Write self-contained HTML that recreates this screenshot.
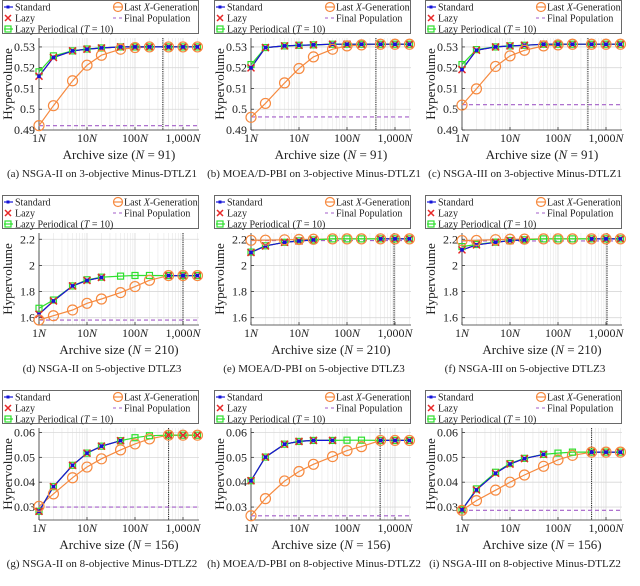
<!DOCTYPE html>
<html><head><meta charset="utf-8">
<style>
html,body{margin:0;padding:0;background:#fff;}
svg{display:block;font-family:"Liberation Serif",serif;}
</style></head>
<body>
<svg id="fig" width="640" height="586" viewBox="0 0 640 586" xmlns="http://www.w3.org/2000/svg"></svg>
<script>
const sizes = [1,2,5,10,20,50,100,200,500,1000,2000];
const N = null;
// Panel (a)
const stdA = [0.5159,0.5249,0.5281,0.5289,0.5295,0.530,0.530,0.530,0.530,0.530,0.530];
const lazyA = [0.5159,0.5249,0.5281,0.5289,0.5295,0.530,0.530,0.530,0.530,0.530,0.530];
const perA = [0.518,0.5257,0.5281,0.529,0.5295,0.530,0.530,0.530,0.530,0.530,0.530];
const lastA = [0.4921,0.5017,0.5137,0.5212,0.526,0.5289,0.5297,0.530,0.530,0.530,0.530];
// Panel (b)
const stdB = [0.5199,0.5297,0.5305,0.5308,0.531,0.5313,0.5313,0.5313,0.5313,0.5313,0.5313];
const lazyB = [0.5199,0.5297,0.5305,0.5308,0.531,0.5313,0.5313,0.5313,0.5313,0.5313,0.5313];
const perB = [0.5215,0.5297,0.5305,0.5308,0.531,0.5313,0.5313,0.5313,0.5313,0.5313,0.5313];
const lastB = [0.4961,0.5028,0.5127,0.5196,0.5252,0.5289,0.5305,0.531,0.5313,0.5313,0.5313];
// Panel (c)
const stdC = [0.5191,0.5284,0.530,0.5305,0.5308,0.5313,0.5313,0.5313,0.5313,0.5313,0.5313];
const lazyC = [0.5191,0.5284,0.530,0.5305,0.5308,0.5313,0.5313,0.5313,0.5313,0.5313,0.5313];
const perC = [0.5215,0.5287,0.530,0.5305,0.5308,0.5313,0.5313,0.5313,0.5313,0.5313,0.5313];
const lastC = [0.502,0.5098,0.5206,0.5257,0.5284,0.5305,0.531,0.5313,0.5313,0.5313,0.5313];
// Panel (d)
const stdD = [1.626,1.728,1.843,1.885,1.908,N,N,N,1.922,1.922,1.922];
const lazyD = [1.626,1.728,1.843,1.885,1.908,N,N,N,1.922,1.922,1.922];
const perD = [1.672,1.735,1.843,1.89,1.91,1.918,1.923,1.923,1.922,1.922,1.922];
const lastD = [1.582,1.615,1.659,1.71,1.743,1.792,1.838,1.886,1.922,1.922,1.922];
// Panel (e)
const stdE = [2.099,2.149,2.177,2.187,2.195,N,N,N,2.203,2.203,2.203];
const lazyE = [2.099,2.149,2.177,2.187,2.195,N,N,N,2.203,2.203,2.203];
const perE = [2.102,2.15,2.177,2.188,2.195,2.203,2.203,2.203,2.203,2.203,2.203];
const lastE = [2.192,2.193,2.196,2.198,2.2,2.203,2.203,2.203,2.203,2.203,2.203];
// Panel (f)
const stdF = [2.119,2.157,2.177,2.19,2.195,N,N,N,2.203,2.203,2.203];
const lazyF = [2.119,2.157,2.177,2.19,2.195,N,N,N,2.203,2.203,2.203];
const perF = [2.144,2.16,2.178,2.19,2.196,2.203,2.203,2.203,2.203,2.203,2.203];
const lastF = [2.19,2.191,2.197,2.2,2.201,2.203,2.203,2.203,2.203,2.203,2.203];
// Panel (g)
const stdG = [0.0283,0.0382,0.0468,0.0517,0.0545,0.0567,N,N,N,N,N];
const lazyG = [0.0283,0.0382,0.0468,0.0517,0.0545,0.0567,N,N,0.0589,0.0589,0.0589];
const perG = [0.0283,0.0382,0.0468,0.0517,0.0545,0.0567,0.0579,0.0587,0.0589,0.0589,0.0589];
const lastG = [0.0303,0.0353,0.0418,0.0461,0.0494,0.053,0.0554,0.0574,0.0589,0.0589,0.0589];
// Panel (h)
const stdH = [0.0406,0.0501,0.0553,0.0564,0.0568,0.0568,N,N,0.0568,0.0568,0.0568];
const lazyH = [0.0406,0.0501,0.0553,0.0564,0.0568,0.0568,N,N,0.0568,0.0568,0.0568];
const perH = [0.0406,0.0501,0.0553,0.0564,0.0568,0.0568,0.0569,0.0569,0.0568,0.0568,0.0568];
const lastH = [0.0265,0.0334,0.0405,0.0443,0.0472,0.0503,0.0527,0.0543,0.0568,0.0568,0.0568];
// Panel (i)
const stdI = [0.0289,0.0369,0.0436,0.0473,0.0495,0.0512,N,N,0.0521,0.0521,0.0521];
const lazyI = [0.0289,0.0369,0.0436,0.0473,0.0495,0.0512,N,N,0.0521,0.0521,0.0521];
const perI = [0.0289,0.0373,0.044,0.0475,0.0496,0.0512,0.0517,0.0521,0.0521,0.0521,0.0521];
const lastI = [0.0287,0.0326,0.0368,0.04,0.0429,0.0464,0.049,0.0508,0.0521,0.0521,0.0521];
// Final population levels and dotted-line positions (archive size multiples)
const finalPop = [0.4921,0.4963,0.5022,1.582,2.19,2.187,0.030,0.0265,0.0287];
const vlineSize = [380,400,420,1000,955,1050,500,490,500];
const nValues = [91,91,91,210,210,210,156,156,156];
const captions = [
 "(a)  NSGA-II on 3-objective Minus-DTLZ1","(b)  MOEA/D-PBI on 3-objective Minus-DTLZ1","(c)  NSGA-III on 3-objective Minus-DTLZ1",
 "(d)  NSGA-II on 5-objective DTLZ3","(e)  MOEA/D-PBI on 5-objective DTLZ3","(f)  NSGA-III on 5-objective DTLZ3",
 "(g)  NSGA-II on 8-objective Minus-DTLZ2","(h)  MOEA/D-PBI on 8-objective Minus-DTLZ2","(i)  NSGA-III on 8-objective Minus-DTLZ2"];
const yTicksRow = [[0.49,0.5,0.51,0.52,0.53],[1.6,1.8,2,2.2],[0.03,0.04,0.05,0.06]];
const yTickLabelsRow = [["0.49","0.5","0.51","0.52","0.53"],["1.6","1.8","2","2.2"],["0.03","0.04","0.05","0.06"]];
const xTicks = [1,10,100,1000];
const xTickLabels = ["1","10","100","1,000"];

const panels = [
 [stdA,lazyA,perA,lastA],[stdB,lazyB,perB,lastB],[stdC,lazyC,perC,lastC],
 [stdD,lazyD,perD,lastD],[stdE,lazyE,perE,lastE],[stdF,lazyF,perF,lastF],
 [stdG,lazyG,perG,lastG],[stdH,lazyH,perH,lastH],[stdI,lazyI,perI,lastI]];
const yRange = [[0.49,0.5343],[1.544,2.248],[0.0248,0.0618]];

const NS = "http://www.w3.org/2000/svg";
const svg = document.getElementById('fig');
function el(tag, attrs, parent){
  const e = document.createElementNS(NS, tag);
  for (const k in attrs) e.setAttribute(k, attrs[k]);
  (parent||svg).appendChild(e);
  return e;
}
const colOff = [0,212,423];
const BLUE="#1414d8", RED="#e82828", GREEN="#2ee02e", ORANGE="#f68a40", PURPLE="#a35ec8";

for (let p=0;p<9;p++){
  const r = Math.floor(p/3), c = p%3;
  const ox = colOff[c], oy = r*195;
  const g = el('g',{});
  
  
  const L = ox+39, R = ox+199, T = oy+38, B = oy+130;
  const [ymin,ymax] = yRange[r];
  const xs = s => L + Math.log10(s)*48;
  const ys = v => B - (v-ymin)/(ymax-ymin)*(B-T);
  const grid = el('g',{},g);
  
  
  for (let d=0; d<4; d++){
    for (let m=1;m<10;m++){
      const s = Math.pow(10,d)*m;
      if (s>2000) break;
      const x = xs(s);
      el('line',{x1:x,x2:x,y1:T,y2:B,stroke:m===1?"#d8d8d8":"#ececec","stroke-width":0.8},grid);
    }
  }
  yTicksRow[r].forEach(v=>{ el('line',{x1:L,x2:R,y1:ys(v),y2:ys(v),stroke:"#d8d8d8","stroke-width":0.8},grid); });
  el('line',{x1:L,x2:L,y1:T,y2:B,stroke:"#333","stroke-width":0.8},g);
  el('line',{x1:L,x2:R,y1:B,y2:B,stroke:"#333","stroke-width":0.8},g);
  yTicksRow[r].forEach((v,i)=>{
    el('line',{x1:L,x2:L+3,y1:ys(v),y2:ys(v),stroke:"#333","stroke-width":0.8},g);
    const t = el('text',{x:L-4,y:ys(v)+4,"text-anchor":"end","font-size":12,fill:"#222"},g);
    
    
    t.textContent = yTickLabelsRow[r][i];
  });
  xTicks.forEach((s,i)=>{
    el('line',{x1:xs(s),x2:xs(s),y1:B,y2:B-3,stroke:"#333","stroke-width":0.8},g);
    const t = el('text',{x:xs(s),y:B+12,"text-anchor":"middle","font-size":12,fill:"#222"},g);
    
    
    t.innerHTML = xTickLabels[i]+'<tspan font-style="italic">N</tspan>';
  });
  const yl = el('text',{x:0,y:0,"text-anchor":"middle","font-size":13,fill:"#222",transform:`translate(${ox+12},${(T+B)/2}) rotate(-90)`},g);
  
  
  yl.textContent = "Hypervolume";
  const xl = el('text',{x:(L+R)/2,y:oy+159,"text-anchor":"middle","font-size":13,fill:"#222"},g);
  
  
  xl.innerHTML = 'Archive size (<tspan font-style="italic">N</tspan> = '+nValues[p]+')';
  const cap = el('text',{x:ox+102,y:oy+177,"text-anchor":"middle","font-size":11,fill:"#222"},g);
  
  
  cap.textContent = captions[p];
  const vl = el('line',{x1:xs(vlineSize[p]),x2:xs(vlineSize[p]),y1:T,y2:B,stroke:"#333","stroke-width":1.1,"stroke-dasharray":"1.2,1"},g);
  
  
  const fp = el('line',{x1:L,x2:R,y1:ys(finalPop[p]),y2:ys(finalPop[p]),stroke:PURPLE,"stroke-width":1.1,"stroke-dasharray":"4,3"},g);
  
  
  const [std,lazy,per,last] = panels[p];
  function path(arr,color,name){
    let d="", pen=false;
    arr.forEach((v,i)=>{
      if (v===null){pen=false;return;}
      d += (pen?"L":"M")+xs(sizes[i]).toFixed(1)+","+ys(v).toFixed(1);
      pen=true;
    });
    const e = el('path',{d:d,fill:"none",stroke:color,"stroke-width":1.2},g);
    
    
  }
  path(lazy,RED,'lazy-line');
  path(last,ORANGE,'last-x-generation-line');
  path(per,GREEN,'lazy-periodical-line');
  path(std,BLUE,'standard-line');
  per.forEach((v,i)=>{ if(v===null)return;
    const m = el('rect',{x:xs(sizes[i])-3,y:ys(v)-3,width:6,height:6,fill:"none",stroke:GREEN,"stroke-width":1.2},g);
    
    
  });
  lazy.forEach((v,i)=>{ if(v===null)return;
    const x=xs(sizes[i]), y=ys(v);
    const m = el('path',{d:`M${x-3.5},${y-3.5}L${x+3.5},${y+3.5}M${x-3.5},${y+3.5}L${x+3.5},${y-3.5}`,stroke:RED,"stroke-width":1.5},g);
    
    
  });
  std.forEach((v,i)=>{ if(v===null)return;
    const m = el('rect',{x:xs(sizes[i])-1.8,y:ys(v)-1.8,width:3.6,height:3.6,fill:BLUE},g);
    
    
  });
  last.forEach((v,i)=>{ if(v===null)return;
    const m = el('circle',{cx:xs(sizes[i]),cy:ys(v),r:5,fill:"none",stroke:ORANGE,"stroke-width":1.2},g);
    
    
  });
  const lg = el('g',{},g);
  
  
  el('rect',{x:ox+2.5,y:oy+0.5,width:196,height:33,fill:"#fff",stroke:"#444","stroke-width":0.8},lg);
  const ents = [
    {x:ox+4,y:oy+7,lab:'Standard',k:'std'},
    {x:ox+4,y:oy+18,lab:'Lazy',k:'lazy'},
    {x:ox+4,y:oy+29,lab:'Lazy Periodical (<tspan font-style="italic">T</tspan> = 10)',k:'per'},
    {x:ox+113,y:oy+7,lab:'Last <tspan font-style="italic">X</tspan>-Generation',k:'last'},
    {x:ox+113,y:oy+18,lab:'Final Population',k:'final'}];
  ents.forEach(en=>{
    const eg = el('g',{},lg);
    
    
    const cx = en.x+4, cy = en.y;
    if (en.k==='std'){ el('line',{x1:cx-4,x2:cx+5,y1:cy,y2:cy,stroke:BLUE,"stroke-width":1.2},eg); el('rect',{x:cx-1.5,y:cy-1.5,width:3,height:3,fill:BLUE},eg); }
    if (en.k==='lazy'){ el('path',{d:`M${cx-3},${cy-3}L${cx+3},${cy+3}M${cx-3},${cy+3}L${cx+3},${cy-3}`,stroke:RED,"stroke-width":1.5},eg); }
    if (en.k==='per'){ el('line',{x1:cx-4,x2:cx+5,y1:cy,y2:cy,stroke:GREEN,"stroke-width":1.2},eg); el('rect',{x:cx-3,y:cy-3,width:6,height:6,fill:"none",stroke:GREEN,"stroke-width":1.2},eg); }
    if (en.k==='last'){ el('line',{x1:cx-4,x2:cx+6,y1:cy,y2:cy,stroke:ORANGE,"stroke-width":1.2},eg); el('circle',{cx:cx+1,cy:cy,r:4.5,fill:"none",stroke:ORANGE,"stroke-width":1.2},eg); }
    if (en.k==='final'){ el('line',{x1:cx-4,x2:cx+6,y1:cy,y2:cy,stroke:PURPLE,"stroke-width":1.1,"stroke-dasharray":"3,3"},eg); }
    const t = el('text',{x:en.x+11,y:en.y+3.6,"font-size":10,fill:"#222"},eg);
    t.innerHTML = en.lab;
  });
}
</script>
</body></html>
